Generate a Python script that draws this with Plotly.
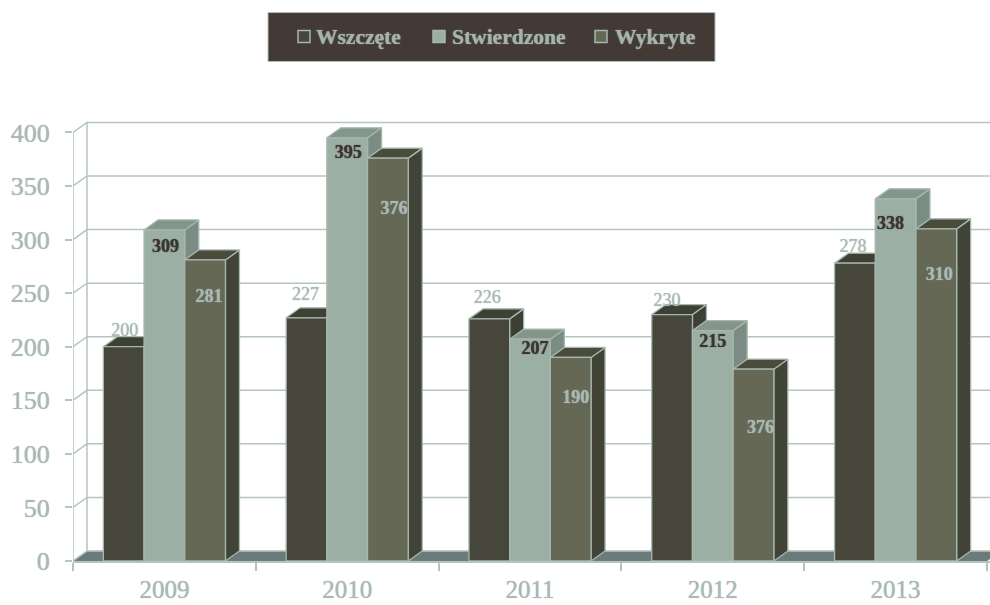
import plotly.graph_objects as go

years = ["2009", "2010", "2011", "2012", "2013"]
series_names = ["Wszczęte", "Stwierdzone", "Wykryte"]
wszczete = [200, 227, 226, 230, 278]
stwierdzone = [309, 395, 207, 215, 338]
wykryte = [281, 376, 190, 179, 310]
wszczete_labels = ["200", "227", "226", "230", "278"]
stwierdzone_labels = ["309", "395", "207", "215", "338"]
wykryte_labels = ["281", "376", "190", "376", "310"]
y_ticks = [0, 50, 100, 150, 200, 250, 300, 350, 400]

# Pixel geometry of the plot
W, H = 990, 605
L, R, T, B = 73, 987, 132, 561
PX_X = (R - L) / 5
PX_Y = (B - T) / 400
DX, DY = 14 / PX_X, 10 / PX_Y
BAR = 40.7 / PX_X
X0, X1 = -0.5, 4.5
Y_MAX = 400
Y_TOP = 420  # head room so the 3D depth above the 400 line is drawn
PLOT_T = B - Y_TOP * PX_Y
X_END = X0 + (W - L) / PX_X

GRID = "#b4c4be"
EDGE = "#a5b7ae"
TXT = "#a9b9b3"
DARKTXT = "#3c3432"
FONT = "Liberation Serif"
SOFT = "0 0 1px "

styles = [
    dict(front="#46473a", top="#3f4034", side="#3d3f33"),
    dict(front="#9cafa4", top="#84958a", side="#7b8c84"),
    dict(front="#666856", top="#4b4b3c", side="#414336"),
]
# Label offsets in pixels from the top-centre of each front face (dx, dy down)
label_style = [
    dict(color=TXT, bold=False, dy=[-15, -22, -20, -13, -16], dx=[1, -1, -2, -5, -2]),
    dict(color=DARKTXT, bold=True, dy=[18, 16, 10, 12, 26], dx=[1, 1, 5, 0, -5]),
    dict(color=TXT, bold=True, dy=[38, 51, 41, 59, 47], dx=[4, 6, 5, 7, 3]),
]

fig = go.Figure()


def poly(xs, ys, fill, line=EDGE, width=1.3):
    fig.add_trace(go.Scatter(x=xs + xs[:1], y=ys + ys[:1], mode="lines", fill="toself",
                             fillcolor=fill, line=dict(color=line, width=width),
                             hoverinfo="skip", showlegend=False, cliponaxis=True))


# Floor
poly([X0, X0 + DX, X1 + DX, X1], [0, DY, DY, 0], "#6b7a7a", line="#7b8a8a", width=0.5)

# Back wall grid, diagonal wall lines and the two upright axis lines
gx, gy = [], []
for v in y_ticks:
    gx += [X0, X0 + DX, X1 + DX, None]
    gy += [v, v + DY, v + DY, None]
gx += [X0 + DX, X0 + DX, None, X0, X0]
gy += [DY, Y_MAX + DY, None, 0, Y_MAX]
fig.add_trace(go.Scatter(x=gx, y=gy, mode="lines", line=dict(color=GRID, width=1.5),
                         hoverinfo="skip", showlegend=False, cliponaxis=False))

all_values = [wszczete, stwierdzone, wykryte]
for i in range(len(years)):
    for s, vals in enumerate(all_values):
        v = vals[i]
        a = i + (s - 1.5) * BAR
        b = a + BAR
        st = styles[s]
        poly([b, b + DX, b + DX, b], [0, DY, v + DY, v], st["side"])
        poly([a, a + DX, b + DX, b], [v, v + DY, v + DY, v], st["top"])
        poly([a, b, b, a], [0, 0, v, v], st["front"])

# Data labels
all_labels = [wszczete_labels, stwierdzone_labels, wykryte_labels]
for s, (vals, labs) in enumerate(zip(all_values, all_labels)):
    ls = label_style[s]
    xs = [i + (s - 1) * BAR + ls["dx"][i] / PX_X for i in range(len(years))]
    ys = [vals[i] - ls["dy"][i] / PX_Y for i in range(len(years))]
    fig.add_trace(go.Scatter(
        x=xs, y=ys, mode="text", text=labs, name=series_names[s], showlegend=False,
        textposition="middle center", cliponaxis=False, hoverinfo="skip",
        textfont=dict(family=FONT, size=18, color=ls["color"], shadow=SOFT + ls["color"],
                      weight="bold" if ls["bold"] else "normal")))


def px(x):
    return (x - L) / (W - L)


def py(y):
    return (B - y) / (B - PLOT_T)


shapes = [dict(type="rect", xref="paper", yref="paper", x0=px(268), x1=px(715), y0=py(61), y1=py(12),
               fillcolor="#443a35", line=dict(color="#b5bdb8", width=1), layer="above")]
annotations = []
legend_sq = [298, 433, 595]
legend_tx = [314, 450, 613]
for k, name in enumerate(series_names):
    shapes.append(dict(type="rect", xref="paper", yref="paper",
                       x0=px(legend_sq[k]), x1=px(legend_sq[k] + 12), y0=py(42), y1=py(30),
                       fillcolor=styles[k]["front"], line=dict(color=EDGE, width=1.5), layer="above"))
    annotations.append(dict(xref="paper", yref="paper", x=px(legend_tx[k]), y=py(36),
                            xanchor="left", yanchor="middle", text=f"<b>{name}</b>", showarrow=False,
                            font=dict(family=FONT, size=21.5, color="#a3b5ab", shadow=SOFT + "#a3b5ab")))

tick_font = dict(family=FONT, size=26, color=TXT, shadow=SOFT + TXT)
x_tick_font = dict(family=FONT, size=25, color=TXT, shadow=SOFT + TXT)
fig.update_layout(
    width=W, height=H, paper_bgcolor="white", plot_bgcolor="white", showlegend=False,
    margin=dict(l=L, r=0, t=PLOT_T, b=H - B, pad=0),
    shapes=shapes, annotations=annotations,
    xaxis=dict(range=[X0, X_END], tickmode="array", tickvals=list(range(5)), ticktext=years,
               automargin=False,
               showgrid=False, zeroline=False, showline=True, linecolor=GRID, linewidth=1.5,
               ticks="outside", ticklen=0, ticklabelstandoff=5, tickfont=x_tick_font,
               minor=dict(tickmode="array", tickvals=[X0 + j for j in range(6)], ticks="outside",
                          ticklen=8, tickcolor=GRID, tickwidth=1.5, showgrid=False)),
    yaxis=dict(range=[0, Y_TOP], tickmode="array", tickvals=y_ticks, automargin=False,
               showgrid=False, zeroline=False, showline=False,
               ticks="outside", ticklen=7, tickcolor=GRID, tickwidth=1.5, ticklabelstandoff=10,
               tickfont=tick_font),
)

fig.write_html("out.html", config={"displayModeBar": False},
               post_script="document.body.style.margin='0';document.body.style.overflow='hidden';")
